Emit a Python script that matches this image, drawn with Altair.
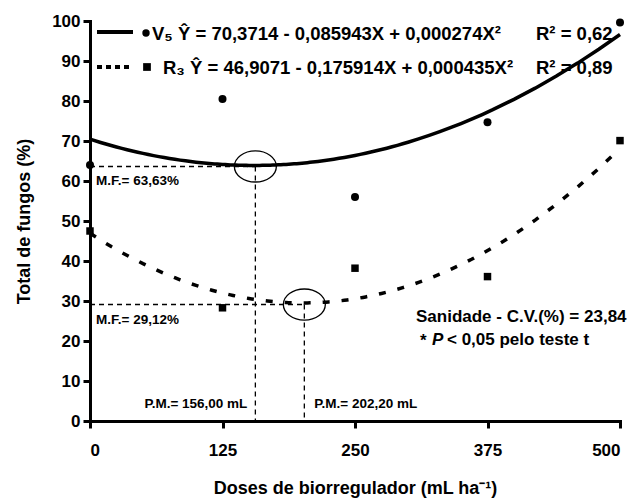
import altair as alt
import pandas as pd

# ---- data ----
doses = [0, 125, 250, 375, 500]
v5_vals = [64.0, 80.5, 56.0, 74.7, 99.6]
r3_vals = [47.5, 28.3, 38.2, 36.1, 70.1]

mf_vals = [63.63, 29.12]
pm_vals = [156.00, 202.20]
mf_labels = ["M.F.= 63,63%", "M.F.= 29,12%"]
pm_labels = ["P.M.= 156,00 mL", "P.M.= 202,20 mL"]

eq_labels = ["V₅ Ŷ = 70,3714 - 0,085943X + 0,000274X²",
             "R₃ Ŷ = 46,9071 - 0,175914X + 0,000435X²"]
r2_labels = ["R² = 0,62", "R² = 0,89"]
cv_label = "Sanidade - C.V.(%) = 23,84"
p_label = ["*", "P", "< 0,05 pelo teste t"]

y_ticks = [0, 10, 20, 30, 40, 50, 60, 70, 80, 90, 100]

FONT = "Liberation Sans"

df_v5 = pd.DataFrame({"dose": doses, "val": v5_vals})
df_r3 = pd.DataFrame({"dose": doses, "val": r3_vals})
df_ann = pd.DataFrame({"zero": [0, 0], "mf": mf_vals, "pm": pm_vals,
                       "mf_label": mf_labels, "pm_label": pm_labels,
                       "idx": [0, 1]})

xs = alt.Scale(domain=[0, 500], nice=False, zero=False)
ys = alt.Scale(domain=[0, 100], nice=False, zero=False)
xaxis = alt.Axis(values=doses, title="Doses de biorregulador (mL ha⁻¹)",
                 labelPadding=14, titlePadding=21)
yaxis = alt.Axis(values=y_ticks, title="Total de fungos (%)",
                 labelPadding=3, titlePadding=18)


def X(field):
    return alt.X(field, type="quantitative", scale=xs, axis=xaxis)


def Y(field):
    return alt.Y(field, type="quantitative", scale=ys, axis=yaxis)


base_v5 = alt.Chart(df_v5)
base_r3 = alt.Chart(df_r3)
ann = alt.Chart(df_ann)

curve_v5 = base_v5.transform_regression(
    "dose", "val", method="poly", order=2, extent=[0, 500]
).mark_line(color="black", strokeWidth=3.5).encode(
    x=X("dose"), y=Y("val"))

curve_r3 = base_r3.transform_regression(
    "dose", "val", method="poly", order=2, extent=[0, 500]
).mark_line(color="black", strokeWidth=3.5, strokeDash=[7, 12]).encode(
    x=X("dose"), y=Y("val"))

hrule = ann.mark_rule(color="black", strokeWidth=1.3, strokeDash=[5, 4]).encode(
    x=X("zero"), x2="pm:Q", y=Y("mf"))
vrule = ann.mark_rule(color="black", strokeWidth=1.3, strokeDash=[5, 4]).encode(
    x=X("pm"), y=Y("mf"), y2="zero:Q")

k = 0.4087
ellipse_path = (f"M-1,0 C-1,-{k} -0.552,-0.74 0,-0.74 "
                f"C0.552,-0.74 1,-{k} 1,0 "
                f"C1,{k} 0.552,0.74 0,0.74 "
                f"C-0.552,0.74 -1,{k} -1,0 Z")
ellipses = ann.mark_point(shape=ellipse_path, size=1764, filled=False,
                          color="black", strokeWidth=1.3, opacity=1).encode(
    x=X("pm"), y=Y("mf"))

pts_v5 = base_v5.mark_point(shape="circle", filled=True, color="black",
                            size=64, opacity=1).encode(x=X("dose"), y=Y("val"))
pts_r3 = base_r3.mark_point(shape="square", filled=True, color="black",
                            size=56, opacity=1).encode(x=X("dose"), y=Y("val"))

mf_text = ann.mark_text(align="left", baseline="middle", dx=6, dy=15,
                        font=FONT, fontSize=13.5, fontWeight="bold",
                        color="black").encode(x=X("zero"), y=Y("mf"),
                                              text="mf_label:N")
pm_text_left = ann.transform_filter("datum.idx == 0").mark_text(
    align="right", baseline="middle", dx=-8, font=FONT, fontSize=13.5,
    fontWeight="bold", color="black").encode(
    x=X("pm"), y=alt.value(383), text="pm_label:N")
pm_text_right = ann.transform_filter("datum.idx == 1").mark_text(
    align="left", baseline="middle", dx=10, font=FONT, fontSize=13.5,
    fontWeight="bold", color="black").encode(
    x=X("pm"), y=alt.value(383), text="pm_label:N")

# ---- legend (drawn manually) ----
leg_df = pd.DataFrame({"eq": eq_labels, "r2": r2_labels})
leg = alt.Chart(leg_df)
txt_kw = dict(baseline="middle", font=FONT, fontSize=18.5, fontWeight="bold",
              color="black")

leg_line1 = leg.transform_filter(alt.datum.eq == eq_labels[0]).mark_rule(
    color="black", strokeWidth=4).encode(
    x=alt.value(7), x2=alt.value(43), y=alt.value(11))
leg_line2 = leg.transform_filter(alt.datum.eq == eq_labels[1]).mark_rule(
    color="black", strokeWidth=4, strokeDash=[5, 4]).encode(
    x=alt.value(7), x2=alt.value(42), y=alt.value(46))
leg_pt1 = leg.transform_filter(alt.datum.eq == eq_labels[0]).mark_point(
    shape="circle", filled=True, color="black", size=55, opacity=1).encode(
    x=alt.value(56), y=alt.value(12))
leg_pt2 = leg.transform_filter(alt.datum.eq == eq_labels[1]).mark_point(
    shape="square", filled=True, color="black", size=60, opacity=1).encode(
    x=alt.value(57), y=alt.value(46))
leg_t1 = leg.transform_filter(alt.datum.eq == eq_labels[0]).mark_text(
    align="left", **txt_kw).encode(x=alt.value(62), y=alt.value(12.5), text="eq:N")
leg_t2 = leg.transform_filter(alt.datum.eq == eq_labels[1]).mark_text(
    align="left", **txt_kw).encode(x=alt.value(73), y=alt.value(46.5), text="eq:N")
leg_r1 = leg.transform_filter(alt.datum.eq == eq_labels[0]).mark_text(
    align="left", **txt_kw).encode(x=alt.value(446), y=alt.value(12.5), text="r2:N")
leg_r2 = leg.transform_filter(alt.datum.eq == eq_labels[1]).mark_text(
    align="left", **txt_kw).encode(x=alt.value(446), y=alt.value(46.5), text="r2:N")

stat_kw = dict(baseline="middle", font=FONT, fontSize=17, fontWeight="bold",
               color="black")
stat_df = pd.DataFrame({"cv": [cv_label], "s": [p_label[0]], "p": [p_label[1]],
                        "rest": [p_label[2]]})
stat = alt.Chart(stat_df)
cv_t = stat.mark_text(align="left", **stat_kw).encode(
    x=alt.value(326), y=alt.value(296), text="cv:N")
star_t = stat.mark_text(align="left", **stat_kw).encode(
    x=alt.value(330), y=alt.value(320), text="s:N")
p_t = stat.mark_text(align="left", fontStyle="italic", **stat_kw).encode(
    x=alt.value(342), y=alt.value(319), text="p:N")
rest_t = stat.mark_text(align="left", **stat_kw).encode(
    x=alt.value(357), y=alt.value(319), text="rest:N")

chart = alt.layer(
    hrule, vrule, ellipses, curve_r3, curve_v5, pts_r3, pts_v5,
    mf_text, pm_text_left, pm_text_right,
    leg_line1, leg_line2, leg_pt1, leg_pt2, leg_t1, leg_t2, leg_r1, leg_r2,
    cv_t, star_t, p_t, rest_t,
).properties(
    width=530, height=400,
    autosize=alt.AutoSizeParams(type="none"),
    padding={"left": 82, "top": 13, "right": 8, "bottom": 85},
).configure_view(stroke=None).configure_axis(
    domainWidth=3, domainColor="black", tickWidth=3, tickSize=7,
    tickColor="black", grid=False, labelFont=FONT, labelFontSize=17,
    labelFontWeight="bold", labelColor="black", titleFont=FONT,
    titleFontSize=18, titleFontWeight="bold", titleColor="black",
    domainCap="square",
)

chart.save("out.html", embed_options={"renderer": "svg", "actions": False})
